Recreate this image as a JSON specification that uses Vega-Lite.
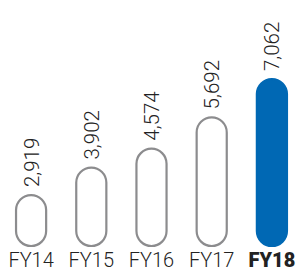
{
  "$schema": "https://vega.github.io/schema/vega-lite/v6.json",
  "width": 295,
  "height": 240,
  "autosize": {"type": "none"},
  "padding": {"left": 4, "top": 6, "right": 0, "bottom": 24},
  "background": "white",
  "config": {"view": {"stroke": null}},
  "data": {
    "values": [
      {"year": "FY14", "value": 2919, "label": "2,919"},
      {"year": "FY15", "value": 3902, "label": "3,902"},
      {"year": "FY16", "value": 4574, "label": "4,574"},
      {"year": "FY17", "value": 5692, "label": "5,692"},
      {"year": "FY18", "value": 7062, "label": "7,062"}
    ]
  },
  "encoding": {
    "x": {
      "field": "year",
      "type": "nominal",
      "sort": null,
      "scale": {"paddingInner": 0.5, "paddingOuter": 0.2},
      "axis": {
        "title": null,
        "domain": false,
        "ticks": false,
        "labelAngle": 0,
        "labelPadding": 4,
        "labelFont": "Roboto",
        "labelFontSize": 20,
        "labelColor": "#222222",
        "labelFontWeight": {"condition": {"test": "datum.value === 'FY18'", "value": 900}, "value": 300}
      }
    },
    "y": {
      "field": "value",
      "type": "quantitative",
      "scale": {"domain": [1100, 9671], "zero": false, "nice": false},
      "axis": null
    }
  },
  "layer": [
    {
      "mark": {"type": "bar", "cornerRadius": 15, "strokeWidth": 2.2},
      "encoding": {
        "y2": {"datum": 1100},
        "fill": {"condition": {"test": "datum.year === 'FY18'", "value": "#0068b4"}, "value": "white"},
        "stroke": {"condition": {"test": "datum.year === 'FY18'", "value": "#0068b4"}, "value": "#8c8c8e"}
      }
    },
    {
      "mark": {"type": "text", "angle": -90, "align": "left", "baseline": "middle", "dx": 8, "dy": 1.5, "font": "Roboto", "fontWeight": 300, "fontSize": 20.5, "color": "#222222"},
      "encoding": {"text": {"field": "label"}}
    }
  ]
}
